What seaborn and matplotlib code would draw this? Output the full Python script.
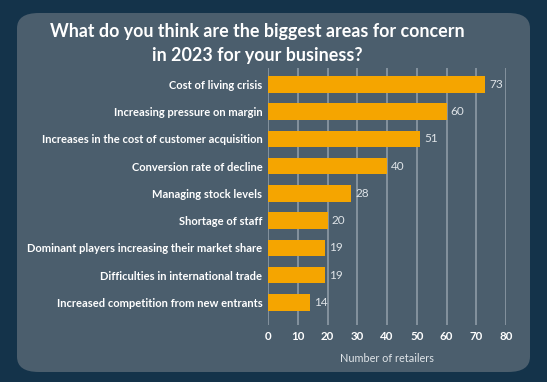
import pandas as pd
import matplotlib.pyplot as plt
import seaborn as sns
from matplotlib.patches import FancyBboxPatch

# Survey answers
concerns = [
    'Cost of living crisis',
    'Increasing pressure on margin',
    'Increases in the cost of customer acquisition',
    'Conversion rate of decline',
    'Managing stock levels',
    'Shortage of staff',
    'Dominant players increasing their market share',
    'Difficulties in international trade',
    'Increased competition from new entrants',
]
retailers = [73, 60, 51, 40, 28, 20, 19, 19, 14]
x_ticks = [0, 10, 20, 30, 40, 50, 60, 70, 80]

df = pd.DataFrame({'concern': concerns, 'retailers': retailers})

sns.set_theme(style='white')
plt.rcParams['font.family'] = ['Lato', 'DejaVu Sans']

outer_bg = '#14334a'
panel_bg = '#4b5e6d'
grid_col = '#8896a2'

fig = plt.figure(figsize=(5.47, 3.82), dpi=100)
fig.patch.set_facecolor(outer_bg)

# rounded panel behind the chart
panel = FancyBboxPatch((17 / 547, 10 / 382), 513 / 547, 359 / 382,
                       boxstyle='round,pad=0,rounding_size=0.04',
                       transform=fig.transFigure, facecolor=panel_bg,
                       edgecolor='none', zorder=-5)
fig.patches.append(panel)

ax = fig.add_axes([268 / 547, 1 - 325 / 382, 238 / 547, 257 / 382])
ax.set_zorder(2)
ax.set_facecolor('none')

sns.barplot(data=df, x='retailers', y='concern', color='#f5a500',
            width=0.61, saturation=1, linewidth=0, ax=ax, zorder=3)

for t in x_ticks:
    ax.axvline(t, color=grid_col, lw=1.3, zorder=1)

ax.set_xlim(0, 80)
ax.set_ylim(8.83, -0.6)
ax.set_xticks(x_ticks)
ax.bar_label(ax.containers[0], padding=3, color='#dfe4e8', fontsize=8.5)

for s in ax.spines.values():
    s.set_visible(False)
ax.tick_params(axis='both', length=0)
ax.tick_params(axis='y', pad=4, labelsize=8.0, labelcolor='white')
ax.tick_params(axis='x', pad=4.5, labelsize=8.3, labelcolor='white')
for lbl in ax.get_yticklabels() + ax.get_xticklabels():
    lbl.set_fontweight('bold')

ax.set_ylabel('')
ax.set_xlabel('Number of retailers', color='#dfe4e8', fontsize=7.8, labelpad=8)

fig.text(257 / 547, 1 - 43 / 382,
         'What do you think are the biggest areas for concern\nin 2023 for your business?',
         ha='center', va='center', color='white', fontsize=12.9,
         fontweight='bold', linespacing=1.5)

fig.savefig('out.png', dpi=100, facecolor=outer_bg)
